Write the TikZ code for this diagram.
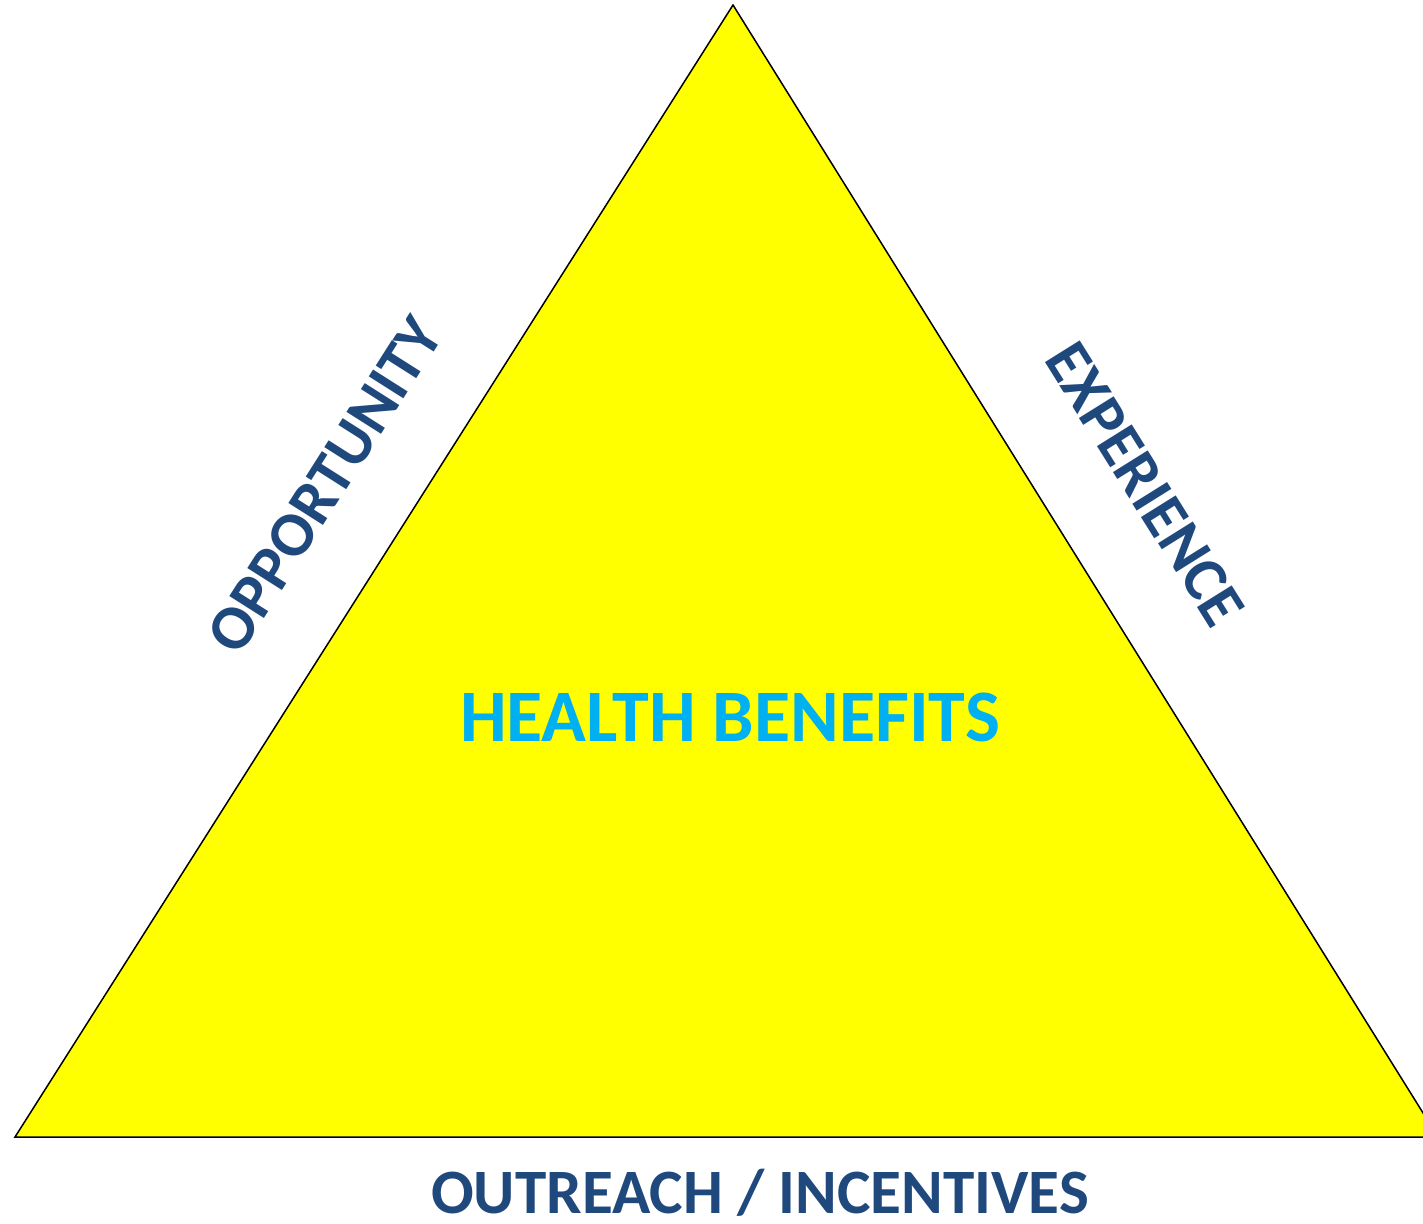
\documentclass[tikz,border=0pt]{standalone}
\usepackage{fontspec}
\setmainfont{Carlito}
\definecolor{labelblue}{HTML}{1F497D}
\definecolor{benefitblue}{HTML}{00B0F0}
\definecolor{pyramidyellow}{HTML}{FFFF00}
\begin{document}
\begin{tikzpicture}[x=0.5pt,y=-0.5pt]
    \useasboundingbox (0,0) rectangle (1423,1223);
    \tikzset{side/.style={text=labelblue,font=\bfseries\fontsize{31.6}{31.6}\selectfont,inner sep=0pt}}
    \begin{scope}
    \clip (0,0) rectangle (1423,1223);
    \coordinate (top) at (733,5);
    \coordinate (left) at (15,1137);
    \coordinate (right) at (1438,1137);
    \filldraw[fill=pyramidyellow,draw=black,line width=0.75pt,line join=miter] (top) -- (left) -- (right) -- cycle;
    \end{scope}
    \node[text=benefitblue,font=\bfseries\fontsize{37}{37}\selectfont,inner sep=0pt,anchor=base] (benefits) at (730,741) {HEALTH BENEFITS};
    \node[side,rotate=57.6] (opportunity) at (325,485) {OPPORTUNITY};
    \node[side,rotate=-58] (experience) at (1145,484) {EXPERIENCE};
    \node[side,anchor=base] (outreach) at (760,1213) {OUTREACH / INCENTIVES};
  \end{tikzpicture}
\end{document}
